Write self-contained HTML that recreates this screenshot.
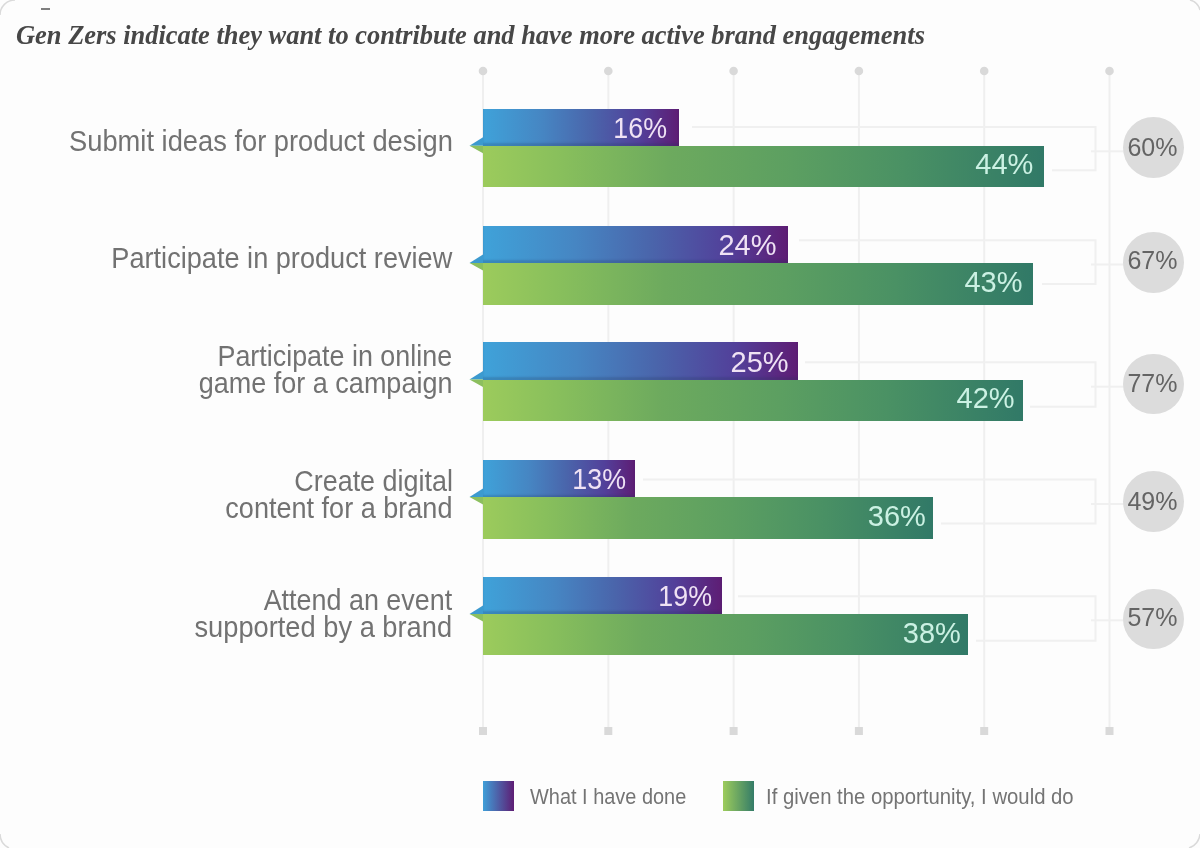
<!DOCTYPE html>
<html>
<head>
<meta charset="utf-8">
<style>
html,body{margin:0;padding:0;}
body{width:1200px;height:848px;position:relative;overflow:hidden;background:#fdfdfd;filter:blur(0.4px);font-family:"Liberation Sans",Arial,sans-serif;}
.abs{position:absolute;}
.title{position:absolute;left:16px;top:0;font-family:"Liberation Serif",serif;font-style:italic;font-weight:bold;font-size:28px;line-height:40px;color:#474747;white-space:nowrap;transform:scaleX(0.944);transform-origin:0 0;}
.lbl{position:absolute;right:747.5px;text-align:right;font-size:29px;color:#727272;line-height:27px;white-space:nowrap;transform:scaleX(0.933);transform-origin:100% 0;}
.bb{position:absolute;left:483px;box-shadow:inset 0 -3px 2px rgba(30,50,90,0.22);background:linear-gradient(90deg,#3fa2d9 0%,#4686c3 30%,#4a65ab 55%,#52409a 80%,#5e1d74 100%);}
.gb{position:absolute;left:483px;height:41.5px;background:linear-gradient(90deg,#9ccb5c 0%,#88bf5c 14%,#6daa5e 33%,#5c9f61 55%,#4a9164 75%,#317967 100%);}
.v{position:absolute;font-size:29px;line-height:40px;white-space:nowrap;text-align:right;}
.bv{color:#efe2f4;}
.gv{color:#cbf1e3;}
.circ{position:absolute;border-radius:50%;background:#dcdcdc;}
.cv{position:absolute;font-size:25px;line-height:40px;color:#646464;white-space:nowrap;text-align:right;}
.leg{position:absolute;font-size:21.5px;line-height:30px;color:#747474;white-space:nowrap;transform-origin:0 0;}
</style>
</head>
<body>
<svg class="abs" style="left:0;top:0" width="1200" height="848">
<path d="M0 15 A15 15 0 0 1 15 0" fill="none" stroke="#dadada" stroke-width="1.5"/>
<path d="M1190 0 A14 14 0 0 1 1200 10" fill="none" stroke="#dadada" stroke-width="1.5"/>
<path d="M0 834 A16 16 0 0 0 9 848" fill="none" stroke="#dadada" stroke-width="1.5"/>
<path d="M1189 848 A16 16 0 0 0 1200 834" fill="none" stroke="#dadada" stroke-width="1.5"/>
<line x1="41" y1="9" x2="50" y2="9" stroke="#555" stroke-width="1.5"/>
<g stroke="#efefef" stroke-width="2">
<line x1="483.0" y1="72" x2="483.0" y2="731"/>
<line x1="608.3" y1="72" x2="608.3" y2="731"/>
<line x1="733.6" y1="72" x2="733.6" y2="731"/>
<line x1="858.9" y1="72" x2="858.9" y2="731"/>
<line x1="984.2" y1="72" x2="984.2" y2="731"/>
<line x1="1109.5" y1="72" x2="1109.5" y2="731"/>
</g><g fill="#d9d9d9">
<circle cx="483.0" cy="71" r="4.3"/>
<rect x="479.0" y="727" width="8" height="8"/>
<circle cx="608.3" cy="71" r="4.3"/>
<rect x="604.3" y="727" width="8" height="8"/>
<circle cx="733.6" cy="71" r="4.3"/>
<rect x="729.6" y="727" width="8" height="8"/>
<circle cx="858.9" cy="71" r="4.3"/>
<rect x="854.9" y="727" width="8" height="8"/>
<circle cx="984.2" cy="71" r="4.3"/>
<rect x="980.2" y="727" width="8" height="8"/>
<circle cx="1109.5" cy="71" r="4.3"/>
<rect x="1105.5" y="727" width="8" height="8"/>
</g>
<g fill="none" stroke="#f0f0f0" stroke-width="2">
<polyline points="692,127 1095.5,127 1095.5,170.3 1052,170.3"/>
<line x1="1091" y1="151.3" x2="1124" y2="151.3"/>
<polyline points="799,240.2 1095.5,240.2 1095.5,284 1042,284"/>
<line x1="1091" y1="264.5" x2="1124" y2="264.5"/>
<polyline points="805,362.3 1095.5,362.3 1095.5,406.8 1030,406.8"/>
<line x1="1091" y1="386.7" x2="1124" y2="386.7"/>
<polyline points="643,479.5 1095.5,479.5 1095.5,523.5 941,523.5"/>
<line x1="1091" y1="504" x2="1124" y2="504"/>
<polyline points="738,596.2 1095.5,596.2 1095.5,640.7 976,640.7"/>
<line x1="1091" y1="620.2" x2="1124" y2="620.2"/>
</g>
<polygon points="483,137.2 469.5,145.7 483,145.7" fill="#3c9acf"/>
<polygon points="483,145.7 469.5,145.7 483,153.2" fill="#8cbf5e"/>
<polygon points="483,254.5 469.5,263.0 483,263.0" fill="#3c9acf"/>
<polygon points="483,263.0 469.5,263.0 483,270.5" fill="#8cbf5e"/>
<polygon points="483,371.1 469.5,379.6 483,379.6" fill="#3c9acf"/>
<polygon points="483,379.6 469.5,379.6 483,387.1" fill="#8cbf5e"/>
<polygon points="483,488.5 469.5,497.0 483,497.0" fill="#3c9acf"/>
<polygon points="483,497.0 469.5,497.0 483,504.5" fill="#8cbf5e"/>
<polygon points="483,605.4 469.5,613.9 483,613.9" fill="#3c9acf"/>
<polygon points="483,613.9 469.5,613.9 483,621.4" fill="#8cbf5e"/>
</svg>
<div class="title" style="top:15.2px">Gen Zers indicate they want to contribute and have more active brand engagements</div>
<div class="lbl" style="top:127.6px;transform:scaleX(0.941)">Submit ideas for product design</div>
<div class="lbl" style="top:245.3px;transform:scaleX(0.936)">Participate in product review</div>
<div class="lbl" style="top:342.9px;transform:scaleX(0.927)">Participate in online</div>
<div class="lbl" style="top:370.1px;transform:scaleX(0.931)">game for a campaign</div>
<div class="lbl" style="top:468.3px;transform:scaleX(0.928)">Create digital</div>
<div class="lbl" style="top:495.3px;transform:scaleX(0.933)">content for a brand</div>
<div class="lbl" style="top:586.6px;transform:scaleX(0.928)">Attend an event</div>
<div class="lbl" style="top:614.3px;transform:scaleX(0.94)">supported by a brand</div>
<div class="bb" style="top:108.5px;height:37.7px;width:195.5px"></div>
<div class="gb" style="top:145.7px;width:560.6px"></div>
<div class="bb" style="top:225.6px;height:37.9px;width:305.2px"></div>
<div class="gb" style="top:263.0px;width:550.3px"></div>
<div class="bb" style="top:342.4px;height:37.7px;width:314.5px"></div>
<div class="gb" style="top:379.6px;width:539.5px"></div>
<div class="bb" style="top:460.0px;height:37.5px;width:152.4px"></div>
<div class="gb" style="top:497.0px;width:449.9px"></div>
<div class="bb" style="top:576.8px;height:37.6px;width:238.6px"></div>
<div class="gb" style="top:613.9px;width:484.5px"></div>
<div class="v bv" style="right:532.7px;top:107.8px;transform:scaleX(0.925);transform-origin:100% 0">16%</div>
<div class="v gv" style="right:166.7px;top:144.4px">44%</div>
<div class="v bv" style="right:423.5px;top:224.9px">24%</div>
<div class="v gv" style="right:177.5px;top:261.7px">43%</div>
<div class="v bv" style="right:411.4px;top:341.7px">25%</div>
<div class="v gv" style="right:185.4px;top:378.3px">42%</div>
<div class="v bv" style="right:573.8px;top:459.3px;transform:scaleX(0.925);transform-origin:100% 0">13%</div>
<div class="v gv" style="right:274.2px;top:495.7px">36%</div>
<div class="v bv" style="right:487.9px;top:576.1px;transform:scaleX(0.925);transform-origin:100% 0">19%</div>
<div class="v gv" style="right:239.2px;top:612.6px">38%</div>
<div class="circ" style="left:1123.4px;top:117.4px;width:60.8px;height:60.8px"></div>
<div class="cv" style="right:22.5px;top:127.3px">60%</div>
<div class="circ" style="left:1123.4px;top:232.4px;width:60.8px;height:60.8px"></div>
<div class="cv" style="right:22.5px;top:240.4px">67%</div>
<div class="circ" style="left:1123.4px;top:353.6px;width:60.8px;height:60.8px"></div>
<div class="cv" style="right:22.5px;top:362.6px">77%</div>
<div class="circ" style="left:1123.4px;top:471.0px;width:60.8px;height:60.8px"></div>
<div class="cv" style="right:22.5px;top:480.5px">49%</div>
<div class="circ" style="left:1123.4px;top:588.5px;width:60.8px;height:60.8px"></div>
<div class="cv" style="right:22.5px;top:596.6px">57%</div>
<div class="abs" style="left:483px;top:781px;width:30.5px;height:30px;background:linear-gradient(90deg,#3f9fd8,#5e1d74)"></div>
<div class="leg" style="left:529.5px;top:781.9px;transform:scaleX(0.927)">What I have done</div>
<div class="abs" style="left:723px;top:781px;width:31px;height:30px;background:linear-gradient(90deg,#9dcc5c,#347c68)"></div>
<div class="leg" style="left:765.5px;top:781.9px;transform:scaleX(0.944)">If given the opportunity, I would do</div>
</body>
</html>
